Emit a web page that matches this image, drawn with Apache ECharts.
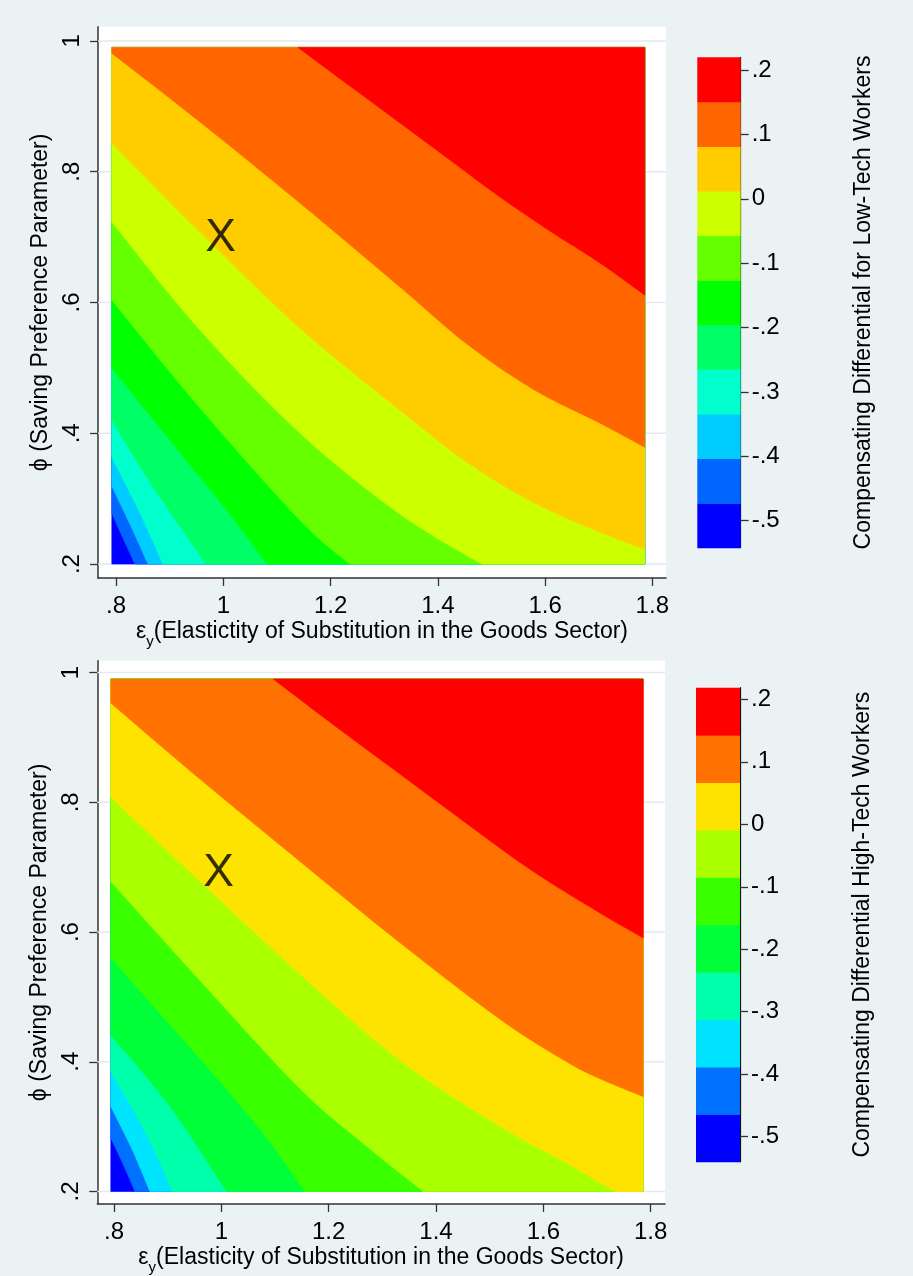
<!DOCTYPE html>
<html>
<head>
<meta charset="utf-8">
<script src="https://cdn.jsdelivr.net/npm/echarts@6/dist/echarts.min.js"></script>
<style>
html,body{margin:0;padding:0;background:#EAF2F3;}
#chart{width:913px;height:1276px;}
</style>
</head>
<body>
<div id="chart"></div>
<script>
// ---------- tick values ----------
const xTicks = [0.8, 1, 1.2, 1.4, 1.6, 1.8];
const yTicks = [0.2, 0.4, 0.6, 0.8, 1];
const cbTicks = [-0.5, -0.4, -0.3, -0.2, -0.1, 0, 0.1, 0.2];

// ---------- top panel (low-tech workers) ----------
const lowXRange = [0.792, 1.786];
const lowYRange = [0.2, 0.99];
const lowLevels = [-0.5419, -0.4727, -0.4034, -0.3342, -0.2649, -0.1957, -0.1265, -0.0572, 0.0120, 0.0813, 0.1505, 0.2197];
const lowColors = ['#0000FF', '#0066FF', '#00CCFF', '#00FFCC', '#00FF66', '#00FF00', '#66FF00', '#CCFF00', '#FFCC00', '#FF6600', '#FF0000'];
// contour boundaries, lowest first: [x, y]
const low_b1 = [[0.792, 0.2779], [0.8129, 0.2396], [0.8352, 0.2]];
const low_b2 = [[0.792, 0.3192], [0.8259, 0.2610], [0.8595, 0.2]];
const low_b3 = [[0.792, 0.3635], [0.8446, 0.2779], [0.8875, 0.2]];
const low_b4 = [[0.792, 0.4201], [0.8632, 0.3253], [0.9677, 0.2]];
const low_b5 = [[0.792, 0.4997], [0.9005, 0.3895], [1.0124, 0.2764], [1.0814, 0.2]];
const low_b6 = [[0.792, 0.6037], [0.9565, 0.4385], [1.143, 0.2671], [1.2362, 0.2]];
const low_b7 = [[0.792, 0.723], [0.9565, 0.5578], [1.143, 0.4002], [1.3295, 0.2764], [1.4824, 0.2]];
const low_b8 = [[0.792, 0.8434], [0.9565, 0.7077], [1.143, 0.5608], [1.3295, 0.4354], [1.4544, 0.3559], [1.5775, 0.2947], [1.7025, 0.2488], [1.786, 0.2228]];
const low_b9 = [[0.792, 0.981], [0.9565, 0.8759], [1.143, 0.752], [1.3295, 0.6236], [1.4544, 0.5364], [1.5775, 0.4675], [1.7025, 0.4155], [1.786, 0.3788]];
const low_b10 = [[1.1392, 0.99], [1.2362, 0.931], [1.3295, 0.8744], [1.4227, 0.8178], [1.516, 0.7612], [1.6092, 0.7092], [1.7025, 0.6603], [1.786, 0.6113]];
const lowMark = [0.995, 0.698];

// ---------- bottom panel (high-tech workers) ----------
const highXRange = [0.794, 1.786];
const highYRange = [0.2, 0.99];
const highLevels = [-0.5400, -0.4641, -0.3883, -0.3124, -0.2366, -0.1607, -0.0848, -0.0090, 0.0669, 0.1427, 0.2186];
const highColors = ['#0000FF', '#0071FF', '#00E3FF', '#00FFAA', '#00FF39', '#39FF00', '#AAFF00', '#FFE300', '#FF7100', '#FF0000'];
const high_c1 = [[0.794, 0.2826], [0.8168, 0.2424], [0.8391, 0.2]];
const high_c2 = [[0.794, 0.3311], [0.8335, 0.2653], [0.8671, 0.2]];
const high_c3 = [[0.794, 0.3846], [0.8578, 0.2929], [0.9094, 0.2]];
const high_c4 = [[0.794, 0.4408], [0.9043, 0.3311], [1.01, 0.2]];
const high_c5 = [[0.794, 0.5605], [0.9602, 0.4045], [1.072, 0.2959], [1.1559, 0.2]];
const high_c6 = [[0.794, 0.6779], [0.9602, 0.5254], [1.1466, 0.3586], [1.2708, 0.2699], [1.3763, 0.2]];
const high_c7 = [[0.794, 0.8079], [0.9602, 0.6783], [1.1466, 0.535], [1.3329, 0.4025], [1.5192, 0.3005], [1.6435, 0.2439], [1.7335, 0.2]];
const high_c8 = [[0.794, 0.9532], [0.9602, 0.8359], [1.1466, 0.7089], [1.3329, 0.5835], [1.5192, 0.4657], [1.6435, 0.3999], [1.7055, 0.3739], [1.786, 0.3464]];
const high_c9 = [[1.0968, 0.99], [1.2081, 0.92], [1.3329, 0.8435], [1.4577, 0.767], [1.5806, 0.6936], [1.7055, 0.6294], [1.786, 0.5911]];
const highMark = [0.995, 0.69];

const lowCurves = [low_b1, low_b2, low_b3, low_b4, low_b5, low_b6, low_b7, low_b8, low_b9, low_b10];
const highCurves = [high_c1, high_c2, high_c3, high_c4, high_c5, high_c6, high_c7, high_c8, high_c9];

// ---------- helpers ----------
const FONT = "'Liberation Sans', Arial, Helvetica, sans-serif";
const AXIS_COLOR = '#333';
function fmt(v) {
  const r = Math.round(v * 10) / 10;
  if (r === 0) return '0';
  return String(r).replace(/^(-?)0\./, '$1.');
}
// smooth path (Catmull-Rom as cubic Bezier) through pixel points
function smoothSegs(P) {
  let d = '';
  const n = P.length;
  for (let i = 0; i < n - 1; i++) {
    const p0 = P[Math.max(i - 1, 0)], p1 = P[i], p2 = P[i + 1], p3 = P[Math.min(i + 2, n - 1)];
    const c1 = [p1[0] + (p2[0] - p0[0]) / 6, p1[1] + (p2[1] - p0[1]) / 6];
    const c2 = [p2[0] - (p3[0] - p1[0]) / 6, p2[1] - (p3[1] - p1[1]) / 6];
    d += ' C' + c1[0].toFixed(2) + ' ' + c1[1].toFixed(2) + ' ' + c2[0].toFixed(2) + ' ' + c2[1].toFixed(2) + ' ' + p2[0].toFixed(2) + ' ' + p2[1].toFixed(2);
  }
  return d;
}
function contourRender(curves, xr, yr, colors) {
  return function (params, api) {
    const i = api.value(0);
    let d;
    if (i === 0) {
      const q = [[xr[0], yr[0]], [xr[1], yr[0]], [xr[1], yr[1]], [xr[0], yr[1]]].map(p => api.coord(p));
      d = 'M' + q[0][0] + ' ' + q[0][1] + q.slice(1).map(p => ' L' + p[0] + ' ' + p[1]).join('') + ' Z';
    } else {
      const c = curves[i - 1];
      const P = c.map(p => api.coord(p));
      const first = c[0], last = c[c.length - 1];
      const corners = [];
      if (Math.abs(last[1] - yr[0]) < 1e-9 && last[0] < xr[1]) corners.push([xr[1], yr[0]]);
      corners.push([xr[1], yr[1]]);
      if (Math.abs(first[0] - xr[0]) < 1e-9 && first[1] < yr[1]) corners.push([xr[0], yr[1]]);
      d = 'M' + P[0][0].toFixed(2) + ' ' + P[0][1].toFixed(2) + smoothSegs(P) +
          corners.map(p => { const q = api.coord(p); return ' L' + q[0].toFixed(2) + ' ' + q[1].toFixed(2); }).join('') + ' Z';
    }
    return {
      type: 'path',
      shape: { pathData: d },
      style: { fill: colors[i], stroke: colors[i], lineWidth: 0.6 }
    };
  };
}
function gridLineRender(params, api) {
  const cs = params.coordSys;
  const y = api.coord([xTicks[0], api.value(0)])[1];
  return {
    type: 'line',
    shape: { x1: cs.x, y1: y, x2: cs.x + cs.width, y2: y },
    style: { stroke: '#E1EAEE', lineWidth: 1.5 }
  };
}
function barRender(levels, colors) {
  return function (params, api) {
    const i = api.value(0);
    const p0 = api.coord([0, levels[i]]);
    const p1 = api.coord([1, levels[i + 1]]);
    return {
      type: 'rect',
      shape: { x: p0[0], y: p1[1], width: p1[0] - p0[0], height: p0[1] - p1[1] + 0.5 },
      style: { fill: colors[i] }
    };
  };
}
function mainX(gi, min, max, label) {
  return {
    gridIndex: gi, type: 'value', min: min, max: max,
    name: '{g|ε}{s|y}{g|' + label + '}',
    nameLocation: 'middle', nameGap: 37,
    nameTextStyle: {
      color: '#000', fontFamily: FONT, fontSize: 23,
      rich: {
        g: { color: '#000', fontFamily: FONT, fontSize: 23, lineHeight: 34, verticalAlign: 'middle' },
        s: { color: '#000', fontFamily: FONT, fontSize: 15, lineHeight: 34, verticalAlign: 'bottom' }
      }
    },
    axisLine: { show: true, onZero: false, lineStyle: { color: AXIS_COLOR, width: 1.5 } },
    axisTick: { show: true, length: 8, customValues: xTicks, lineStyle: { color: AXIS_COLOR, width: 1.3 } },
    axisLabel: { customValues: xTicks, formatter: fmt, color: '#000', fontFamily: FONT, fontSize: 24, margin: 16 },
    splitLine: { show: false }
  };
}
function mainY(gi, min, max) {
  return {
    gridIndex: gi, type: 'value', min: min, max: max,
    name: 'ϕ (Saving Preference Parameter)',
    nameLocation: 'middle', nameRotate: 90, nameGap: 36,
    nameTextStyle: { color: '#000', fontFamily: FONT, fontSize: 23 },
    axisLine: { show: true, onZero: false, lineStyle: { color: AXIS_COLOR, width: 1.5 } },
    axisTick: { show: true, length: 8, customValues: yTicks, lineStyle: { color: AXIS_COLOR, width: 1.3 } },
    axisLabel: { customValues: yTicks, formatter: fmt, rotate: 90, color: '#000', fontFamily: FONT, fontSize: 24, margin: 14 },
    splitLine: { show: false }
  };
}
function cbY(gi, levels, title) {
  return {
    gridIndex: gi, type: 'value', position: 'right',
    min: levels[0], max: levels[levels.length - 1],
    name: title, nameLocation: 'middle', nameRotate: 90, nameGap: 111,
    nameTextStyle: { color: '#000', fontFamily: FONT, fontSize: 23 },
    axisLine: { show: true, onZero: false, lineStyle: { color: '#111', width: 1.2 } },
    axisTick: { show: true, length: 8, customValues: cbTicks, lineStyle: { color: AXIS_COLOR, width: 1.3 } },
    axisLabel: { customValues: cbTicks, formatter: fmt, color: '#000', fontFamily: FONT, fontSize: 24, margin: 11 },
    splitLine: { show: false }
  };
}

const chart = echarts.init(document.getElementById('chart'), null, { renderer: 'canvas' });
chart.setOption({
  backgroundColor: '#EAF2F3',
  animation: false,
  grid: [
    { left: 98, top: 26.7, width: 568, height: 551.3, show: true, backgroundColor: '#FFFFFF', borderWidth: 0 },
    { left: 97.3, top: 660.7, width: 567.7, height: 547.6, show: true, backgroundColor: '#FFFFFF', borderWidth: 0 },
    { left: 697.3, top: 57.3, width: 43.4, height: 490.4, show: false },
    { left: 696, top: 687.7, width: 44, height: 474, show: false }
  ],
  xAxis: [
    mainX(0, 0.76624, 1.82555, '(Elastictity of Substitution in the Goods Sector)'),
    mainX(1, 0.76888, 1.82664, '(Elasticity of Substitution in the Goods Sector)'),
    { gridIndex: 2, type: 'value', min: 0, max: 1, show: false },
    { gridIndex: 3, type: 'value', min: 0, max: 1, show: false }
  ],
  yAxis: [
    mainY(0, 0.17874, 1.02172),
    mainY(1, 0.18073, 1.01836),
    cbY(2, lowLevels, 'Compensating Differential for Low-Tech Workers'),
    cbY(3, highLevels, 'Compensating Differential High-Tech Workers')
  ],
  series: [
    { type: 'custom', xAxisIndex: 0, yAxisIndex: 0, silent: true, z: 1,
      data: yTicks.map(v => [v]), renderItem: gridLineRender },
    { type: 'custom', xAxisIndex: 0, yAxisIndex: 0, silent: true, z: 2,
      data: lowColors.map((c, i) => [i]), renderItem: contourRender(lowCurves, lowXRange, lowYRange, lowColors) },
    { type: 'scatter', xAxisIndex: 0, yAxisIndex: 0, silent: true, z: 5,
      data: [lowMark], symbolSize: 1, itemStyle: { color: 'rgba(0,0,0,0)' },
      label: { show: true, position: 'inside', formatter: 'X', color: '#000', fontFamily: FONT, fontSize: 46 } },
    { type: 'custom', xAxisIndex: 1, yAxisIndex: 1, silent: true, z: 1,
      data: yTicks.map(v => [v]), renderItem: gridLineRender },
    { type: 'custom', xAxisIndex: 1, yAxisIndex: 1, silent: true, z: 2,
      data: highColors.map((c, i) => [i]), renderItem: contourRender(highCurves, highXRange, highYRange, highColors) },
    { type: 'scatter', xAxisIndex: 1, yAxisIndex: 1, silent: true, z: 5,
      data: [highMark], symbolSize: 1, itemStyle: { color: 'rgba(0,0,0,0)' },
      label: { show: true, position: 'inside', formatter: 'X', color: '#000', fontFamily: FONT, fontSize: 46 } },
    { type: 'custom', xAxisIndex: 2, yAxisIndex: 2, silent: true, z: 2,
      data: lowColors.map((c, i) => [i]), renderItem: barRender(lowLevels, lowColors) },
    { type: 'custom', xAxisIndex: 3, yAxisIndex: 3, silent: true, z: 2,
      data: highColors.map((c, i) => [i]), renderItem: barRender(highLevels, highColors) }
  ]
});
</script>
</body>
</html>
